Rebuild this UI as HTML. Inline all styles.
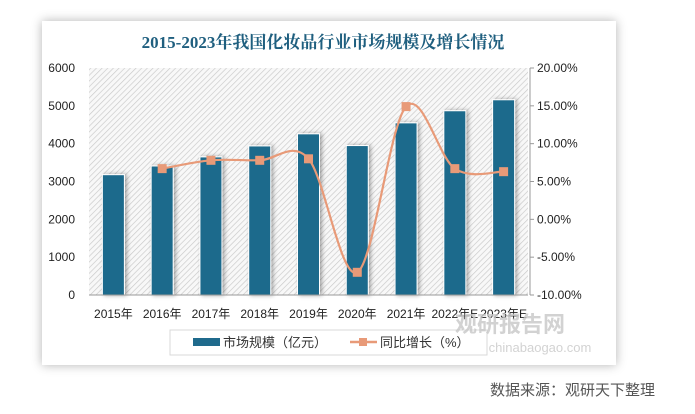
<!DOCTYPE html>
<html><head><meta charset="utf-8"><style>
body{margin:0;width:695px;height:414px;background:#fff;position:relative;overflow:hidden;font-family:"Liberation Sans","Noto Sans CJK SC",sans-serif}
#card{position:absolute;left:42px;top:21px;width:574px;height:344px;background:#fff;box-shadow:0 0 10px rgba(0,0,0,0.3)}
#src{position:absolute;left:490px;top:379px;font-size:15px;color:#555}
</style></head><body>
<div id="card"></div>
<svg id="chart" width="695" height="414" style="position:absolute;left:0;top:0">
<defs><pattern id="hatch" width="4" height="4" patternUnits="userSpaceOnUse" patternTransform="rotate(45)"><rect width="4" height="4" fill="#f8f8f8"/><line x1="0" y1="0" x2="0" y2="4" stroke="#c8c8c8" stroke-width="1.3"/></pattern>
<filter id="sh" x="-50%" y="-10%" width="200%" height="120%"><feDropShadow dx="2" dy="0" stdDeviation="2" flood-color="#000" flood-opacity="0.35"/></filter></defs>
<text x="323" y="48" text-anchor="middle" font-family="'Liberation Serif','Noto Serif CJK SC',serif" font-weight="bold" font-size="17" fill="#1f5f7f">2015-2023年我国化妆品行业市场规模及增长情况</text>
<rect x="89" y="68" width="439" height="227" fill="url(#hatch)"/>
<g id="bars"></g><g id="axes"></g><g id="line"></g>
<g>
<rect x="170" y="330" width="317" height="25" fill="#fff" stroke="#d9d9d9"/>
<rect x="193" y="338" width="27" height="8" fill="#1f6a8c"/>
<text x="223" y="347" font-size="13" fill="#333">市场规模（亿元）</text>
<line x1="350" y1="342" x2="377" y2="342" stroke="#e89a78" stroke-width="2.5"/>
<rect x="359" y="338" width="8" height="8" fill="#e89a78"/>
<text x="380" y="347" font-size="13" fill="#333">同比增长（%）</text>
</g>
<text x="510" y="332" text-anchor="middle" font-size="22" font-weight="bold" fill="#c8c8c8" opacity="0.8">观研报告网</text>
<text x="540" y="352" text-anchor="middle" font-size="13" fill="#c8c8c8" opacity="0.8">chinabaogao.com</text>
</svg>
<div id="src">数据来源：观研天下整理</div>
<script>
const categories=["2015年","2016年","2017年","2018年","2019年","2020年","2021年","2022年E","2023年E"];
const marketSize=[3180,3410,3650,3940,4260,3950,4550,4870,5160];
const growth=[null,6.7,7.8,7.8,8.0,-7.0,14.9,6.7,6.3];
const leftTicks=[0,1000,2000,3000,4000,5000,6000];
const rightTicks=[-10,-5,0,5,10,15,20];
const NS="http://www.w3.org/2000/svg";
const X0=89,X1=528,Y0=295,Y1=68;
const band=(X1-X0)/categories.length;
const xc=i=>X0+band*(i+0.5);
const yL=v=>Y0-(v/6000)*(Y0-Y1);
const yR=v=>Y0-((v+10)/30)*(Y0-Y1);
function mk(t,a,p){const e=document.createElementNS(NS,t);for(const k in a)e.setAttribute(k,a[k]);p.appendChild(e);return e;}
const bars=document.getElementById('bars'),axes=document.getElementById('axes'),line=document.getElementById('line');
marketSize.forEach((v,i)=>{
 const r=mk('rect',{x:xc(i)-11,y:yL(v),width:22,height:Y0-yL(v),fill:'#1f6a8c',stroke:'#fff','stroke-width':1,filter:'url(#sh)'},bars);
 
 
 const t=mk('text',{x:xc(i),y:318,'text-anchor':'middle','font-size':12,fill:'#222'},axes);t.textContent=categories[i];
 
 
});
mk('line',{x1:X0,y1:Y0,x2:X1,y2:Y0,stroke:'#999'},axes);
mk('line',{x1:530,y1:Y1,x2:530,y2:Y0,stroke:'#999'},axes);
leftTicks.forEach(v=>{const t=mk('text',{x:75,y:yL(v)+4,'text-anchor':'end','font-size':12,fill:'#222'},axes);t.textContent=v;
 
 });
rightTicks.forEach(v=>{mk('line',{x1:530,y1:yR(v),x2:534,y2:yR(v),stroke:'#999'},axes);
 const t=mk('text',{x:537,y:yR(v)+4,'font-size':12,fill:'#222'},axes);t.textContent=v.toFixed(2)+'%';
 
 });
const pts=[];growth.forEach((g,i)=>{if(g!==null)pts.push([xc(i),yR(g)]);});
let d='M'+pts[0][0]+','+pts[0][1];
for(let i=0;i<pts.length-1;i++){const p0=pts[i-1]||pts[i],p1=pts[i],p2=pts[i+1],p3=pts[i+2]||p2;const k=0.5/3*2;
 d+=' C'+(p1[0]+(p2[0]-p0[0])*k/2)+','+(p1[1]+(p2[1]-p0[1])*k/2)+' '+(p2[0]-(p3[0]-p1[0])*k/2)+','+(p2[1]-(p3[1]-p1[1])*k/2)+' '+p2[0]+','+p2[1];}
const path=mk('path',{d:d,fill:'none',stroke:'#e89a78','stroke-width':2.2},line);


pts.forEach(p=>{const m=mk('rect',{x:p[0]-4.5,y:p[1]-4.5,width:9,height:9,fill:'#e89a78'},line);
 
 });
</script>
</body></html>
